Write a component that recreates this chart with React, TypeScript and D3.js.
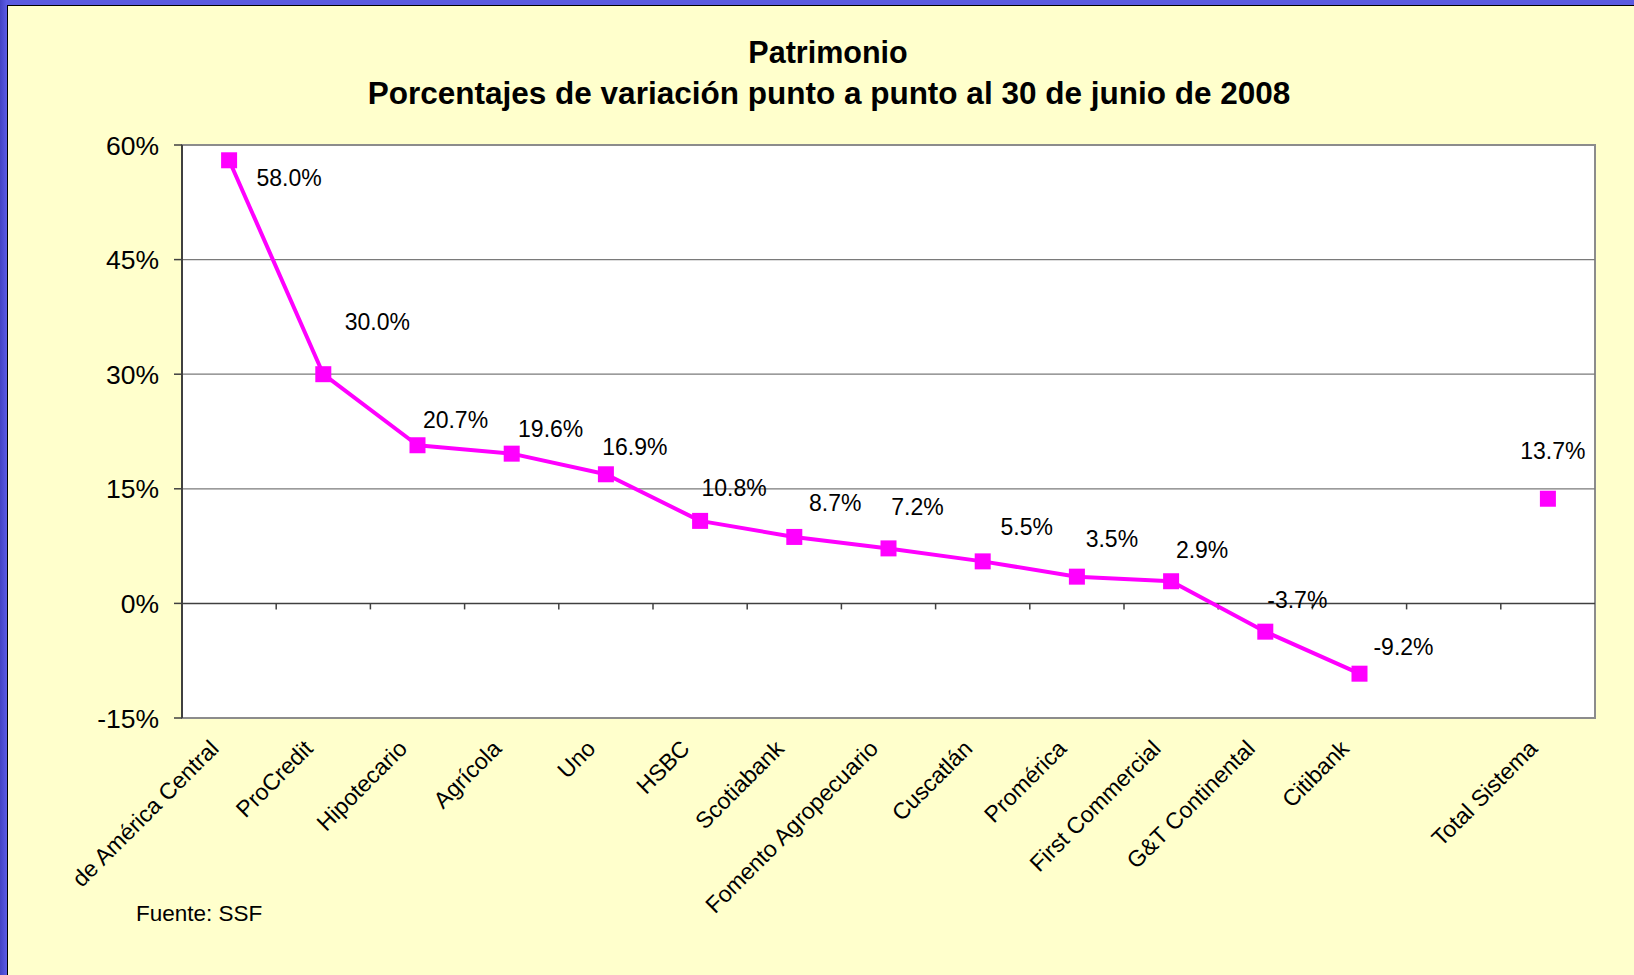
import React from 'react';
import * as d3 from 'd3';

// Patrimonio: % variation by bank, June 2008
const categories = [
  'de América Central', 'ProCredit', 'Hipotecario', 'Agrícola', 'Uno', 'HSBC',
  'Scotiabank', 'Fomento Agropecuario', 'Cuscatlán', 'Promérica', 'First Commercial',
  'G&T Continental', 'Citibank', '', 'Total Sistema',
];
const values: (number | null)[] = [
  58.0, 30.0, 20.7, 19.6, 16.9, 10.8, 8.7, 7.2, 5.5, 3.5, 2.9, -3.7, -9.2, null, 13.7,
];
const yTicks = [-15, 0, 15, 30, 45, 60];

// manual placement of the data labels (px from the marker), as in the original sheet
const labelNudge: [number, number][] = [
  [60, 17], [54, -52], [38, -26], [39, -25], [29, -28], [34, -33], [41, -34],
  [29, -42], [44, -35], [35, -38], [31, -32], [32, -32], [44, -27], [0, 0], [5, -48],
];

const W = 1634;
const H = 975;
const plot = { left: 182, right: 1595, top: 145, bottom: 718 };
const font = '"Liberation Sans", Arial, sans-serif';
const magenta = '#ff00ff';

export default function App() {
  const x = d3.scaleBand<number>()
    .domain(d3.range(categories.length))
    .range([plot.left, plot.right])
    .padding(0);
  const y = d3.scaleLinear().domain([-15, 60]).range([plot.bottom, plot.top]);
  const cx = (i: number) => (x(i) || 0) + x.bandwidth() / 2;

  const line = d3.line<number | null>()
    .defined(v => v != null)
    .x((_, i) => cx(i))
    .y(v => y(v as number));

  const y0 = y(0);

  return (
    <svg
      width={W}
      height={H}
      viewBox={`0 0 ${W} ${H}`}
      style={{ position: 'absolute', left: 0, top: 0, display: 'block' }}
      fontFamily={font}
    >
      <defs>
        <linearGradient id="edge" x1="0" x2="1" y1="0" y2="0">
          <stop offset="0" stopColor="#4343c4" />
          <stop offset="1" stopColor="#5c5ce6" />
        </linearGradient>
      </defs>
      <rect width={W} height={H} fill="#ffffcc" />
      <rect x={0} y={0} width={W} height={5} fill="#5a5ae2" />
      <rect x={0} y={0} width={7} height={H} fill="url(#edge)" />
      <line x1={7} x2={W} y1={5.5} y2={5.5} stroke="#000" strokeWidth={1} />
      <line x1={7.5} x2={7.5} y1={5} y2={H} stroke="#000" strokeWidth={1} />

      {/* title */}
      <text x={828} y={63} textAnchor="middle" fontSize={30.5} fontWeight="bold" fill="#000">
        Patrimonio
      </text>
      <text x={829} y={104} textAnchor="middle" fontSize={31.5} fontWeight="bold" fill="#000">
        Porcentajes de variación punto a punto al 30 de junio de 2008
      </text>

      {/* plot area */}
      <rect
        x={plot.left}
        y={plot.top}
        width={plot.right - plot.left}
        height={plot.bottom - plot.top}
        fill="#fff"
        stroke="#8c8c8c"
        strokeWidth={2}
      />
      {yTicks.filter(t => t !== 0 && t !== -15 && t !== 60).map(t => (
        <line key={t} x1={plot.left} x2={plot.right} y1={y(t)} y2={y(t)} stroke="#7a7a7a" strokeWidth={1.2} />
      ))}
      <line x1={plot.left} x2={plot.left} y1={plot.top} y2={plot.bottom} stroke="#404040" strokeWidth={2} />

      {/* y axis ticks + labels */}
      {yTicks.map(t => (
        <g key={t}>
          <line x1={plot.left - 8} x2={plot.left} y1={y(t)} y2={y(t)} stroke="#404040" strokeWidth={1.5} />
          <text x={159} y={y(t)} dy="0.36em" textAnchor="end" fontSize={26.5} fill="#000">
            {`${t}%`}
          </text>
        </g>
      ))}

      {/* category axis at zero */}
      <line x1={plot.left} x2={plot.right} y1={y0} y2={y0} stroke="#404040" strokeWidth={1.5} />
      {d3.range(1, categories.length).map(i => (
        <line key={i} x1={x(i)} x2={x(i)} y1={y0} y2={y0 + 6} stroke="#404040" strokeWidth={1.5} />
      ))}

      {categories.map((c, i) => (
        <text
          key={i}
          transform={`translate(${cx(i) - 9},${750}) rotate(-45)`}
          textAnchor="end"
          fontSize={23}
          fill="#000"
        >
          {c}
        </text>
      ))}

      {/* series */}
      <path d={line(values) || ''} fill="none" stroke={magenta} strokeWidth={4} strokeLinejoin="round" />
      {values.map((v, i) =>
        v == null ? null : (
          <rect key={i} x={cx(i) - 8} y={y(v) - 8} width={16} height={16} fill={magenta} />
        ),
      )}
      {values.map((v, i) =>
        v == null ? null : (
          <text
            key={i}
            x={cx(i) + labelNudge[i][0]}
            y={y(v) + labelNudge[i][1]}
            dy="0.36em"
            textAnchor="middle"
            fontSize={23}
            fill="#000"
          >
            {`${v.toFixed(1)}%`}
          </text>
        ),
      )}

      <text x={136} y={921} fontSize={22.5} fill="#000">Fuente: SSF</text>
    </svg>
  );
}
